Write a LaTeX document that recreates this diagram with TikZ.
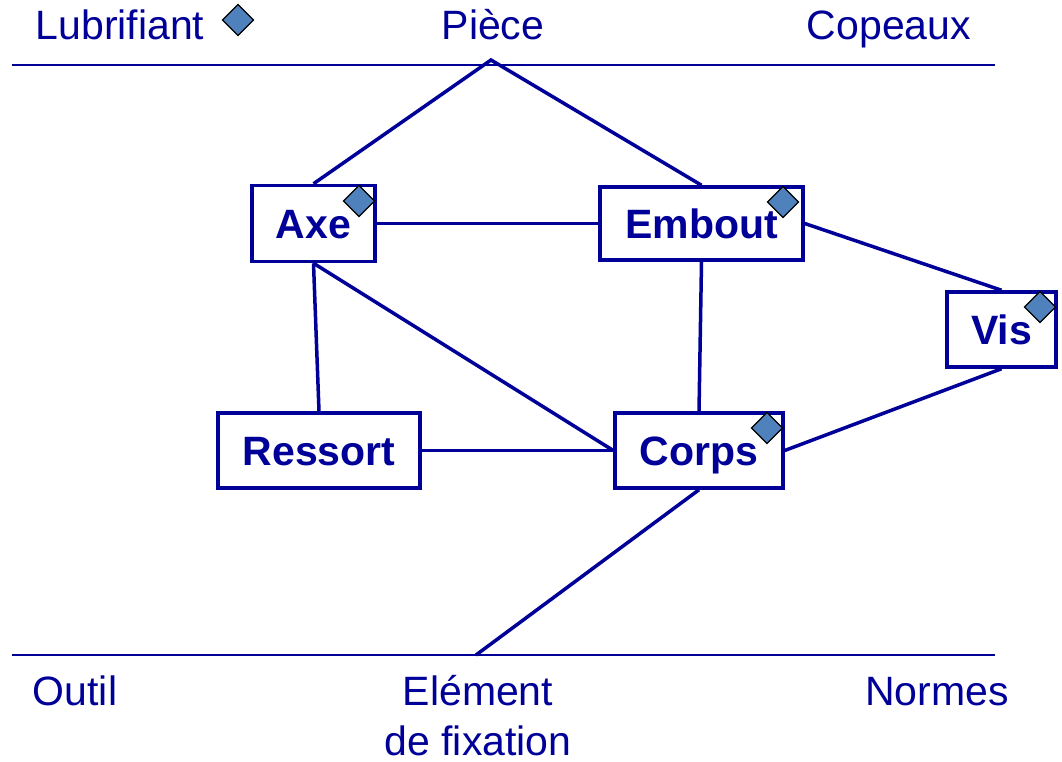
\documentclass[tikz,border=0pt]{standalone}
\usepackage{fontspec}
\setmainfont{Liberation Sans}
\definecolor{navy}{RGB}{0,0,153}
\definecolor{dfill}{RGB}{79,129,189}
\begin{document}
\begin{tikzpicture}[x=1pt,y=-1pt,
  lbl/.style={text=navy,font=\fontsize{41}{50}\selectfont,inner sep=0pt},
  comp/.style={draw=navy,line width=3.5pt,fill=white,text=navy,inner sep=0pt,
    text height=29.5pt,text depth=0pt,
    font=\fontsize{41}{50}\selectfont\bfseries},
  conn/.style={draw=navy,line width=3.5pt},
  border/.style={draw=navy,line width=2.5pt},
  dia/.style={fill=dfill,draw=black,line width=1.3pt,line join=miter}]
\useasboundingbox (0,0) rectangle (1062,762);
% boundary lines
\coordinate (tl) at (12,65);
\coordinate (tr) at (995,65);
\coordinate (bl) at (12,655);
\coordinate (br) at (995,655);
\draw[border] (tl) -- (tr);
\draw[border] (bl) -- (br);
% external labels
\node[lbl,anchor=base] (lub) at (120,40) {Lubrifiant};
\node[lbl,anchor=base] (piece) at (493,40) {Pièce};
\node[lbl,anchor=base] (cop) at (889,40) {Copeaux};
\node[lbl,anchor=base] (outil) at (75,705) {Outil};
\node[lbl,anchor=base,align=center] (elem) at (478,755) {Elément\\de fixation};
\node[lbl,anchor=base] (norm) at (937,705) {Normes};
% components
\node[comp,minimum width=123pt,minimum height=76pt] (axe) at (313.5,223.5) {Axe};
\node[comp,minimum width=203pt,minimum height=73pt] (emb) at (701.5,223.5) {Embout};
\node[comp,minimum width=109pt,minimum height=75pt] (vis) at (1001.5,329.5) {Vis};
\node[comp,minimum width=202pt,minimum height=75pt] (res) at (319,450.5) {Ressort};
\node[comp,minimum width=168pt,minimum height=75pt] (corps) at (699,450.5) {Corps};
% connectors
\coordinate (apex) at (491,60);
\coordinate (fix) at (476,655);
\draw[conn,line join=miter] (axe.north) -- (apex) -- (emb.north);
\draw[conn] (axe.east) -- (emb.west);
\draw[conn] (emb.east) -- (vis.north);
\draw[conn] (vis.south) -- (corps.east);
\draw[conn] (emb.south) -- (corps.north);
\draw[conn] (axe.south) -- (res.north);
\draw[conn] (axe.south) -- (corps.west);
\draw[conn] (res.east) -- (corps.west);
\draw[conn] (corps.south) -- (fix);
% diamonds
\foreach \n/\x/\y in {d0/238/20,d1/359/201,d2/783/202,d3/1040/307,d4/767/428}{
  \draw[dia] (\x-15.5,\y) -- (\x,\y-15.5) -- (\x+15.5,\y) -- (\x,\y+15.5) -- cycle;
}
\end{tikzpicture}
\end{document}
